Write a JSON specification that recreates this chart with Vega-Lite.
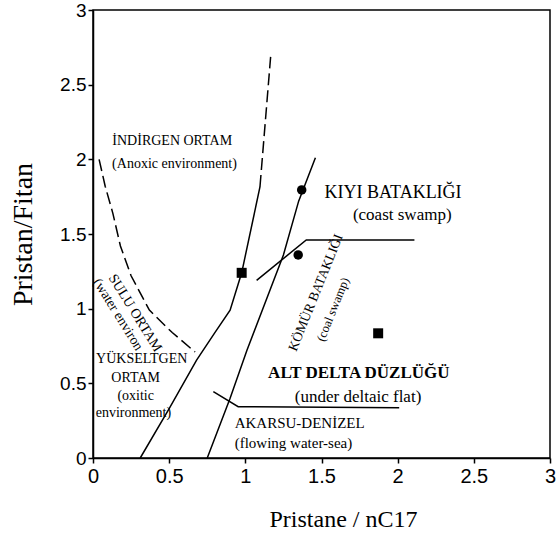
{
  "$schema": "https://vega.github.io/schema/vega-lite/v6.json",
  "autosize": "none",
  "width": 457,
  "height": 448,
  "padding": {"left": 93, "top": 10, "right": 7, "bottom": 79},
  "background": "white",
  "config": {"view": {"stroke": "black", "strokeWidth": 1.5}, "font": "Liberation Serif"},
  "datasets": {
    "lines": [
      {"seg": "A", "style": "solid", "i": 1, "x": 0.31, "y": 0},
      {"seg": "A", "style": "solid", "i": 2, "x": 0.5, "y": 0.33},
      {"seg": "A", "style": "solid", "i": 3, "x": 0.68, "y": 0.656},
      {"seg": "A", "style": "solid", "i": 4, "x": 0.8, "y": 0.84},
      {"seg": "A", "style": "solid", "i": 5, "x": 0.9, "y": 0.99},
      {"seg": "A", "style": "solid", "i": 6, "x": 0.976, "y": 1.24},
      {"seg": "A", "style": "solid", "i": 7, "x": 1.096, "y": 1.815},
      {"seg": "A2", "style": "dash", "i": 1, "x": 1.096, "y": 1.815},
      {"seg": "A2", "style": "dash", "i": 2, "x": 1.166, "y": 2.686},
      {"seg": "B", "style": "solid", "i": 1, "x": 0.75, "y": 0},
      {"seg": "B", "style": "solid", "i": 2, "x": 0.9, "y": 0.4},
      {"seg": "B", "style": "solid", "i": 3, "x": 1.01, "y": 0.72},
      {"seg": "B", "style": "solid", "i": 4, "x": 1.25, "y": 1.36},
      {"seg": "B", "style": "solid", "i": 5, "x": 1.35, "y": 1.72},
      {"seg": "B", "style": "solid", "i": 6, "x": 1.46, "y": 2.01},
      {"seg": "C", "style": "solid", "i": 1, "x": 1.074, "y": 1.19},
      {"seg": "C", "style": "solid", "i": 2, "x": 1.4, "y": 1.46},
      {"seg": "C", "style": "solid", "i": 3, "x": 2.11, "y": 1.46},
      {"seg": "D", "style": "solid", "i": 1, "x": 0.79, "y": 0.444},
      {"seg": "D", "style": "solid", "i": 2, "x": 0.953, "y": 0.344},
      {"seg": "D", "style": "solid", "i": 3, "x": 2.01, "y": 0.337},
      {"seg": "E", "style": "dash", "i": 1, "x": 0.04, "y": 2.0},
      {"seg": "E", "style": "dash", "i": 2, "x": 0.08, "y": 1.82},
      {"seg": "E", "style": "dash", "i": 3, "x": 0.13, "y": 1.64},
      {"seg": "E", "style": "dash", "i": 4, "x": 0.18, "y": 1.42},
      {"seg": "E", "style": "dash", "i": 5, "x": 0.25, "y": 1.22},
      {"seg": "E", "style": "dash", "i": 6, "x": 0.37, "y": 0.99},
      {"seg": "E", "style": "dash", "i": 7, "x": 0.52, "y": 0.84},
      {"seg": "E", "style": "dash", "i": 8, "x": 0.67, "y": 0.71}
    ],
    "points": [
      {"kind": "square", "x": 0.976, "y": 1.24},
      {"kind": "square", "x": 1.872, "y": 0.835},
      {"kind": "circle", "x": 1.37, "y": 1.795},
      {"kind": "circle", "x": 1.347, "y": 1.36}
    ],
    "labels": [
      {"g": "big", "x": 1.97, "y": 1.775, "text": "KIYI BATAKLIĞI"},
      {"g": "bold", "x": 1.745, "y": 0.57, "text": "ALT DELTA DÜZLÜĞÜ"},
      {"g": "mid", "x": 2.03, "y": 1.63, "text": "(coast swamp)"},
      {"g": "mid", "x": 1.74, "y": 0.41, "text": "(under deltaic flat)"},
      {"g": "small", "x": 0.52, "y": 2.12, "text": "İNDİRGEN ORTAM"},
      {"g": "small", "x": 0.535, "y": 1.97, "text": "(Anoxic environment)"},
      {"g": "small", "x": 0.32, "y": 0.66, "text": "YÜKSELTGEN"},
      {"g": "small", "x": 0.28, "y": 0.535, "text": "ORTAM"},
      {"g": "small", "x": 0.28, "y": 0.415, "text": "(oxitic"},
      {"g": "small", "x": 0.265, "y": 0.3, "text": "environment)"},
      {"g": "left", "x": 0.93, "y": 0.235, "text": "AKARSU-DENİZEL"},
      {"g": "left", "x": 0.93, "y": 0.1, "text": "(flowing water-sea)"},
      {"g": "rotA", "x": 0.276, "y": 0.97, "text": "SULU ORTAM"},
      {"g": "rotA", "x": 0.164, "y": 0.96, "text": "(water environ"},
      {"g": "rotB", "x": 1.463, "y": 1.107, "text": "KÖMÜR BATAKLIĞI"},
      {"g": "rotC", "x": 1.575, "y": 0.995, "text": "(coal swamp)"}
    ]
  },
  "layer": [
    {
      "data": {"name": "lines"},
      "transform": [{"filter": "datum.style == 'solid'"}],
      "mark": {"type": "line", "color": "black", "strokeWidth": 1.5},
      "encoding": {
        "x": {
          "field": "x", "type": "quantitative",
          "scale": {"domain": [0, 3], "nice": false, "zero": false},
          "axis": {
            "title": "Pristane / nC17",
            "values": [0, 0.25, 0.5, 0.75, 1, 1.25, 1.5, 1.75, 2, 2.25, 2.5, 2.75, 3],
            "format": ".2~f",
            "labelExpr": "(datum.value*2)%1 == 0 ? datum.label : ''",
            "labelFont": "Liberation Sans", "labelFontSize": 20, "labelColor": "black",
            "labelFlush": false, "labelOverlap": false, "labelPadding": 3,
            "tickColor": "black", "tickSize": 5, "tickWidth": 1.5,
            "domainColor": "black", "domainWidth": 1.5, "grid": false,
            "titleFont": "Liberation Serif", "titleFontSize": 24, "titleFontWeight": "normal",
            "titleColor": "black", "titleX": 250, "titleY": 61, "titleBaseline": "middle"
          }
        },
        "y": {
          "field": "y", "type": "quantitative",
          "scale": {"domain": [0, 3], "nice": false, "zero": false},
          "axis": {
            "title": "Pristan/Fitan",
            "values": [0, 0.25, 0.5, 0.75, 1, 1.25, 1.5, 1.75, 2, 2.25, 2.5, 2.75, 3],
            "format": ".2~f",
            "labelExpr": "(datum.value*2)%1 == 0 ? datum.label : ''",
            "labelFont": "Liberation Sans", "labelFontSize": 19, "labelColor": "black",
            "labelFlush": false, "labelOverlap": false, "labelPadding": 2,
            "tickColor": "black", "tickSize": 5, "tickWidth": 1.5,
            "domainColor": "black", "domainWidth": 1.5, "grid": false,
            "titleFont": "Liberation Serif", "titleFontSize": 28, "titleFontWeight": "normal",
            "titleColor": "black", "titleX": -70, "titleY": 224, "titleBaseline": "middle", "titleAngle": -90
          }
        },
        "detail": {"field": "seg"},
        "order": {"field": "i"}
      }
    },
    {
      "data": {"name": "lines"},
      "transform": [{"filter": "datum.style == 'dash'"}],
      "mark": {"type": "line", "color": "black", "strokeWidth": 1.5, "strokeDash": [12, 5]},
      "encoding": {
        "x": {"field": "x", "type": "quantitative"},
        "y": {"field": "y", "type": "quantitative"},
        "detail": {"field": "seg"},
        "order": {"field": "i"}
      }
    },
    {
      "data": {"name": "points"},
      "transform": [{"filter": "datum.kind == 'square'"}],
      "mark": {"type": "point", "shape": "square", "filled": true, "color": "black", "size": 100, "opacity": 1},
      "encoding": {
        "x": {"field": "x", "type": "quantitative"},
        "y": {"field": "y", "type": "quantitative"}
      }
    },
    {
      "data": {"name": "points"},
      "transform": [{"filter": "datum.kind == 'circle'"}],
      "mark": {"type": "point", "shape": "circle", "filled": true, "color": "black", "size": 90, "opacity": 1},
      "encoding": {
        "x": {"field": "x", "type": "quantitative"},
        "y": {"field": "y", "type": "quantitative"}
      }
    },
    {
      "data": {"name": "labels"},
      "transform": [{"filter": "datum.g == 'big'"}],
      "mark": {"type": "text", "font": "Liberation Serif", "fontSize": 18, "color": "black", "baseline": "middle"},
      "encoding": {
        "x": {"field": "x", "type": "quantitative"},
        "y": {"field": "y", "type": "quantitative"},
        "text": {"field": "text"}
      }
    },
    {
      "data": {"name": "labels"},
      "transform": [{"filter": "datum.g == 'bold'"}],
      "mark": {"type": "text", "font": "Liberation Serif", "fontSize": 17, "fontWeight": "bold", "color": "black", "baseline": "middle"},
      "encoding": {
        "x": {"field": "x", "type": "quantitative"},
        "y": {"field": "y", "type": "quantitative"},
        "text": {"field": "text"}
      }
    },
    {
      "data": {"name": "labels"},
      "transform": [{"filter": "datum.g == 'mid'"}],
      "mark": {"type": "text", "font": "Liberation Serif", "fontSize": 17, "color": "black", "baseline": "middle"},
      "encoding": {
        "x": {"field": "x", "type": "quantitative"},
        "y": {"field": "y", "type": "quantitative"},
        "text": {"field": "text"}
      }
    },
    {
      "data": {"name": "labels"},
      "transform": [{"filter": "datum.g == 'small'"}],
      "mark": {"type": "text", "font": "Liberation Serif", "fontSize": 14, "color": "black", "baseline": "middle"},
      "encoding": {
        "x": {"field": "x", "type": "quantitative"},
        "y": {"field": "y", "type": "quantitative"},
        "text": {"field": "text"}
      }
    },
    {
      "data": {"name": "labels"},
      "transform": [{"filter": "datum.g == 'left'"}],
      "mark": {"type": "text", "font": "Liberation Serif", "fontSize": 15, "color": "black", "baseline": "middle", "align": "left"},
      "encoding": {
        "x": {"field": "x", "type": "quantitative"},
        "y": {"field": "y", "type": "quantitative"},
        "text": {"field": "text"}
      }
    },
    {
      "data": {"name": "labels"},
      "transform": [{"filter": "datum.g == 'rotA'"}],
      "mark": {"type": "text", "font": "Liberation Serif", "fontSize": 14, "color": "black", "baseline": "middle", "angle": 58},
      "encoding": {
        "x": {"field": "x", "type": "quantitative"},
        "y": {"field": "y", "type": "quantitative"},
        "text": {"field": "text"}
      }
    },
    {
      "data": {"name": "labels"},
      "transform": [{"filter": "datum.g == 'rotB'"}],
      "mark": {"type": "text", "font": "Liberation Serif", "fontSize": 13.5, "color": "black", "baseline": "middle", "angle": 292},
      "encoding": {
        "x": {"field": "x", "type": "quantitative"},
        "y": {"field": "y", "type": "quantitative"},
        "text": {"field": "text"}
      }
    },
    {
      "data": {"name": "labels"},
      "transform": [{"filter": "datum.g == 'rotC'"}],
      "mark": {"type": "text", "font": "Liberation Serif", "fontSize": 12.5, "color": "black", "baseline": "middle", "angle": 292},
      "encoding": {
        "x": {"field": "x", "type": "quantitative"},
        "y": {"field": "y", "type": "quantitative"},
        "text": {"field": "text"}
      }
    }
  ]
}
